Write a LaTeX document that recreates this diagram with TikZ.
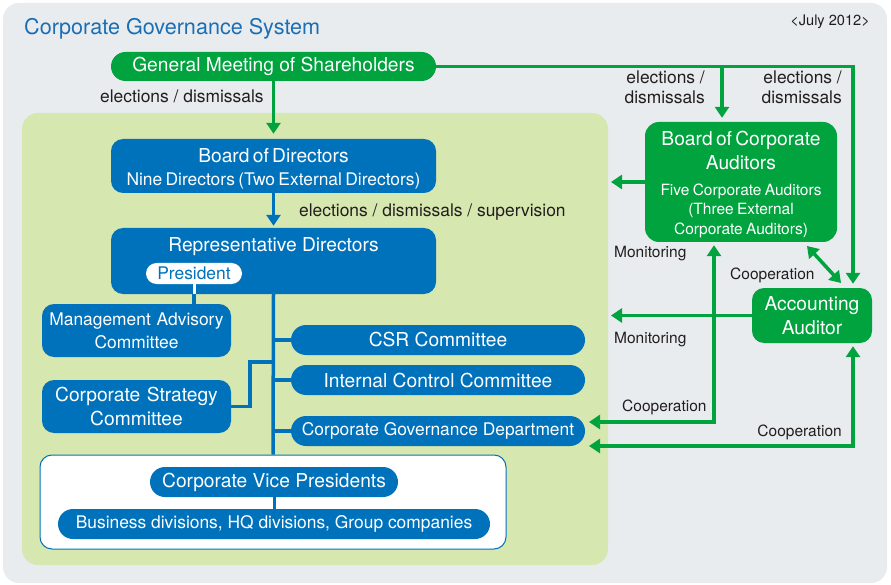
\documentclass[tikz,border=0pt]{standalone}
\usepackage{fontspec}
\setmainfont{TeX Gyre Heros}
\usepackage{tikz}
\usetikzlibrary{arrows.meta}
\usetikzlibrary{positioning}
\definecolor{cgblue}{RGB}{0,114,188}
\definecolor{cggreen}{RGB}{0,163,62}
\definecolor{cgpanel}{RGB}{232,236,239}
\definecolor{cglime}{RGB}{214,231,176}
\definecolor{cgtitle}{RGB}{28,110,180}
\definecolor{cgtext}{RGB}{35,30,30}
\def\titletext{\fontsize{21.6}{26}\selectfont}
\def\bigtext{\fontsize{19.2}{23.5}\selectfont}
\def\midtext{\fontsize{17.4}{19.5}\selectfont}
\def\midwide{\fontsize{17.4}{23}\selectfont}
\def\smalltext{\fontsize{15.5}{19.5}\selectfont}
\def\datetext{\fontsize{14.6}{17}\selectfont}

\begin{document}
\begin{tikzpicture}[x=1pt,y=-1pt,>={Triangle[length=11pt,width=14pt]},
		gbox/.style={fill=cggreen,text=white,inner sep=0pt,align=center,rounded corners=12pt},
		bbox/.style={fill=cgblue,text=white,inner sep=0pt,align=center,rounded corners=12pt},
		pill/.style={bbox,rounded corners=15pt,minimum height=30pt},
		gline/.style={draw=cggreen,line width=3.5pt},
		bline/.style={draw=cgblue,line width=3.5pt},
		note/.style={text=cgtext,inner sep=0pt,font=\midtext,align=center}]
	\useasboundingbox (0,0) rectangle (891,585);
	\fill[cgpanel,rounded corners=16pt] (3,3) rectangle (887,583);
	\fill[cglime,rounded corners=16pt] (22,113) rectangle (608,565);

	\node[anchor=base west,inner sep=0pt,text=cgtitle,font=\titletext] (title) at (24,35) {Corporate Governance System};
	\node[anchor=east,inner sep=0pt,text=cgtext,font=\datetext] (date) at (870,22) {<July 2012>};

	% shareholders and the two boards
	\node[gbox,minimum width=325pt,minimum height=29pt,rounded corners=14.5pt,font=\bigtext] (gm) at (273.5,66.5) {General Meeting of Shareholders};
	\node[bbox,text width=325pt,minimum height=54pt] (bod) at (273.5,166)
		{\bigtext\rule{0pt}{20pt}Board of Directors\par\vspace{3.5pt}\midtext Nine Directors (Two External Directors)\par};
	\node[bbox,minimum width=325pt,minimum height=66pt] (rd) at (273.5,261) {};
	\node[below=10pt of rd.north,inner sep=0pt,text=white,font=\bigtext] (rdname) {Representative Directors};
	\node[fill=white,text=cgblue,inner sep=0pt,minimum width=96pt,minimum height=21pt,rounded corners=10.5pt,font=\midtext] (pres) at (194,273.5) {President};

	\node[gbox,text width=192pt,minimum height=120pt,rounded corners=14pt] (bca) at (741,182)
		{\bigtext\rule{0pt}{19pt}Board of Corporate\\Auditors\par\vspace{6.5pt}\smalltext Five Corporate Auditors\\(Three External\\Corporate Auditors)\par};
	\node[gbox,text width=120pt,minimum height=55pt,font=\bigtext] (aa) at (812,315.5) {Accounting\\Auditor\par};

	% committees
	\node[bbox,text width=189pt,minimum height=53pt,font=\midwide] (mac) at (136.5,330.5) {Management Advisory\\Committee\par};
	\node[bbox,text width=189pt,minimum height=53pt,font=\bigtext] (csc) at (136.5,406.5) {Corporate Strategy\\Committee\par};
	\node[pill,minimum width=294pt,font=\bigtext] (csr) at (438,340) {CSR Committee};
	\node[pill,minimum width=294pt,font=\bigtext] (icc) at (438,380) {Internal Control Committee};
	\node[pill,minimum width=294pt,font=\midtext] (cgd) at (438,431) {Corporate Governance Department};

	\node[draw=cgblue,fill=white,line width=1pt,rounded corners=12pt,minimum width=466pt,minimum height=94pt] (vpbox) at (273,502) {};
	\node[pill,minimum width=248pt,font=\bigtext] (cvp) at (274,482) {Corporate Vice Presidents};
	\node[pill,minimum width=432pt,font=\midtext] (bdiv) at (274,524) {Business divisions, HQ divisions, Group companies};

	% blue lines inside the company
	\draw[bline,->,shorten >=2pt] (bod) -- (rd);
	\draw[bline] (rd.south) -- (vpbox.north);
	\draw[bline] (csr.west) -- (csr.west -| rd.south);
	\draw[bline] (icc.west) -- (icc.west -| rd.south);
	\draw[bline] (cgd.west) -- (cgd.west -| rd.south);
	\coordinate (stratK) at (250,362);
	\draw[bline] (csc.east) -| (stratK) -- (stratK -| rd.south);
	\draw[bline] (pres.south) -- (pres.south |- mac.north);
	\draw[white,line width=3pt] (pres.south) -- (pres.south |- rd.south);
	\draw[bline,line width=3pt] (cvp) -- (bdiv);

	% green lines
	\coordinate (bcaIn) at ([xshift=-19pt]bca.north);
	\coordinate (monX) at (611,0);
	\coordinate (coopA) at (807,246);
	\coordinate (coopB) at (841,283);
	\coordinate (coopL1) at (589,422);
	\coordinate (coopL2) at (589,446);
	\draw[gline,->,shorten >=5pt] (gm) -- (bod);
	\draw[gline,->,shorten >=4pt] (gm.east) -| ([xshift=41pt]aa.north);
	\draw[gline,->,shorten >=4pt] (bcaIn |- gm.east) -- (bcaIn);
	\draw[gline,->] (bca.west) -- (bca.west -| monX);
	\draw[gline,->] (aa.west) -- (aa.west -| monX);
	\draw[gline,<->] (coopA) -- (coopB);
	\draw[gline,<->,shorten >=3pt] (coopL1) -| ([xshift=-27pt]bca.south);
	\draw[gline,<->,shorten >=3pt] (coopL2) -| ([xshift=41pt]aa.south);

	% labels
	\node[note,anchor=west] (elL) at (100,96) {elections / dismissals};
	\node[note,anchor=west] (elS) at (299,212) {elections / dismissals / supervision};
	\node[note,anchor=east,align=right] (elB) at (705,87.5) {elections /\\dismissals};
	\node[note,anchor=east,align=right] (elA) at (842,87.5) {elections /\\dismissals};
	\node[note,anchor=west,font=\smalltext] (monB) at (614,254) {Monitoring};
	\node[note,anchor=west,font=\smalltext] (monA) at (614,340) {Monitoring};
	\node[note,anchor=west,font=\smalltext] (coA) at (730,275) {Cooperation};
	\node[note,anchor=west,font=\smalltext] (coB) at (622,407) {Cooperation};
	\node[note,anchor=east,font=\smalltext] (coC) at (842,432) {Cooperation};
\end{tikzpicture}
\end{document}
